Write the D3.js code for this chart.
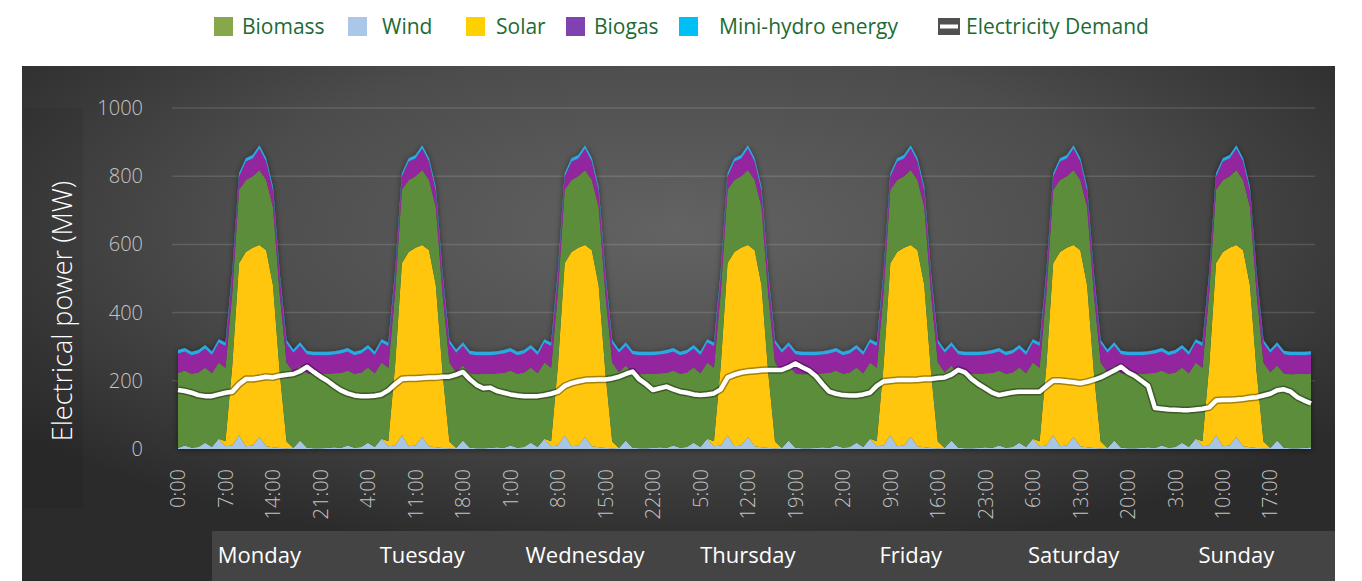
<!DOCTYPE html>
<html>
<head>
<meta charset="utf-8">
<script src="https://cdnjs.cloudflare.com/ajax/libs/d3/7.8.5/d3.min.js"></script>
<style>
    body { margin: 0; background: #ffffff; }
    svg { display: block; font-family: "Open Sans", sans-serif; }
</style>
</head>
<body>
<div id="chart"></div>
<script>
// days of the week shown under the axis
const days = ["Monday", "Tuesday", "Wednesday", "Thursday", "Friday", "Saturday", "Sunday"];

// category labels, one every 7 hours
const tickLabels = ["0:00", "7:00", "14:00", "21:00", "4:00", "11:00", "18:00", "1:00", "8:00", "15:00", "22:00",
    "5:00", "12:00", "19:00", "2:00", "9:00", "16:00", "23:00", "6:00", "13:00", "20:00", "3:00", "10:00", "17:00"];

const yTicks = [0, 200, 400, 600, 800, 1000];

// hourly values (MW), Monday 0:00 -> Sunday 23:00
const wind = [
    3, 10, 4, 6, 18, 6, 30, 8, 10, 40, 8, 10, 35, 8, 5, 3, 2, 3, 25, 4, 2, 2, 3, 5,
    3, 10, 4, 6, 18, 6, 30, 8, 10, 40, 8, 10, 35, 8, 5, 3, 2, 3, 25, 4, 2, 2, 3, 5,
    3, 10, 4, 6, 18, 6, 30, 8, 10, 40, 8, 10, 35, 8, 5, 3, 2, 3, 25, 4, 2, 2, 3, 5,
    3, 10, 4, 6, 18, 6, 30, 8, 10, 40, 8, 10, 35, 8, 5, 3, 2, 3, 25, 4, 2, 2, 3, 5,
    3, 10, 4, 6, 18, 6, 30, 8, 10, 40, 8, 10, 35, 8, 5, 3, 2, 3, 25, 4, 2, 2, 3, 5,
    3, 10, 4, 6, 18, 6, 30, 8, 10, 40, 8, 10, 35, 8, 5, 3, 2, 3, 25, 4, 2, 2, 3, 5,
    3, 10, 4, 6, 18, 6, 30, 8, 10, 40, 8, 10, 35, 8, 5, 3, 2, 3, 25, 4, 2, 2, 3, 5
];
const solar = [
    0, 0, 0, 0, 0, 0, 0, 15, 235, 505, 570, 580, 563, 575, 475, 220, 20, 0, 0, 0, 0, 0, 0, 0,
    0, 0, 0, 0, 0, 0, 0, 15, 235, 505, 570, 580, 563, 575, 475, 220, 20, 0, 0, 0, 0, 0, 0, 0,
    0, 0, 0, 0, 0, 0, 0, 15, 235, 505, 570, 580, 563, 575, 475, 220, 20, 0, 0, 0, 0, 0, 0, 0,
    0, 0, 0, 0, 0, 0, 0, 15, 235, 505, 570, 580, 563, 575, 475, 220, 20, 0, 0, 0, 0, 0, 0, 0,
    0, 0, 0, 0, 0, 0, 0, 15, 235, 505, 570, 580, 563, 575, 475, 220, 20, 0, 0, 0, 0, 0, 0, 0,
    0, 0, 0, 0, 0, 0, 0, 15, 235, 505, 570, 580, 563, 575, 475, 220, 20, 0, 0, 0, 0, 0, 0, 0,
    0, 0, 0, 0, 0, 0, 0, 15, 235, 505, 570, 580, 563, 575, 475, 220, 20, 0, 0, 0, 0, 0, 0, 0
];
const biomass = [
    220, 220, 217, 218, 221, 216, 224, 215, 215, 215, 211, 210, 220, 206, 230, 230, 232, 222, 220, 218, 217, 218, 217, 217,
    220, 220, 217, 218, 221, 216, 224, 215, 215, 215, 211, 210, 220, 206, 230, 230, 232, 222, 220, 218, 217, 218, 217, 217,
    220, 220, 217, 218, 221, 216, 224, 215, 215, 215, 211, 210, 220, 206, 230, 230, 232, 222, 220, 218, 217, 218, 217, 217,
    220, 220, 217, 218, 221, 216, 224, 215, 215, 215, 211, 210, 220, 206, 230, 230, 232, 222, 220, 218, 217, 218, 217, 217,
    220, 220, 217, 218, 221, 216, 224, 215, 215, 215, 211, 210, 220, 206, 230, 230, 232, 222, 220, 218, 217, 218, 217, 217,
    220, 220, 217, 218, 221, 216, 224, 215, 215, 215, 211, 210, 220, 206, 230, 230, 232, 222, 220, 218, 217, 218, 217, 217,
    220, 220, 217, 218, 221, 216, 224, 215, 215, 215, 211, 210, 220, 206, 230, 230, 232, 222, 220, 218, 217, 218, 217, 217
];
const biogas = [
    57, 56, 54, 56, 56, 54, 58, 64, 50, 39, 54, 52, 63, 54, 48, 52, 56, 57, 58, 56, 56, 55, 55, 55,
    57, 56, 54, 56, 56, 54, 58, 64, 50, 39, 54, 52, 63, 54, 48, 52, 56, 57, 58, 56, 56, 55, 55, 55,
    57, 56, 54, 56, 56, 54, 58, 64, 50, 39, 54, 52, 63, 54, 48, 52, 56, 57, 58, 56, 56, 55, 55, 55,
    57, 56, 54, 56, 56, 54, 58, 64, 50, 39, 54, 52, 63, 54, 48, 52, 56, 57, 58, 56, 56, 55, 55, 55,
    57, 56, 54, 56, 56, 54, 58, 64, 50, 39, 54, 52, 63, 54, 48, 52, 56, 57, 58, 56, 56, 55, 55, 55,
    57, 56, 54, 56, 56, 54, 58, 64, 50, 39, 54, 52, 63, 54, 48, 52, 56, 57, 58, 56, 56, 55, 55, 55,
    57, 56, 54, 56, 56, 54, 58, 64, 50, 39, 54, 52, 63, 54, 48, 52, 56, 57, 58, 56, 56, 55, 55, 55
];
const miniHydro = [
    10, 10, 10, 10, 10, 10, 10, 10, 10, 10, 10, 10, 10, 10, 10, 10, 10, 10, 10, 10, 10, 10, 10, 10,
    10, 10, 10, 10, 10, 10, 10, 10, 10, 10, 10, 10, 10, 10, 10, 10, 10, 10, 10, 10, 10, 10, 10, 10,
    10, 10, 10, 10, 10, 10, 10, 10, 10, 10, 10, 10, 10, 10, 10, 10, 10, 10, 10, 10, 10, 10, 10, 10,
    10, 10, 10, 10, 10, 10, 10, 10, 10, 10, 10, 10, 10, 10, 10, 10, 10, 10, 10, 10, 10, 10, 10, 10,
    10, 10, 10, 10, 10, 10, 10, 10, 10, 10, 10, 10, 10, 10, 10, 10, 10, 10, 10, 10, 10, 10, 10, 10,
    10, 10, 10, 10, 10, 10, 10, 10, 10, 10, 10, 10, 10, 10, 10, 10, 10, 10, 10, 10, 10, 10, 10, 10,
    10, 10, 10, 10, 10, 10, 10, 10, 10, 10, 10, 10, 10, 10, 10, 10, 10, 10, 10, 10, 10, 10, 10, 10
];
const demand = [
    173, 170, 165, 158, 155, 155, 160, 165, 168, 190, 205, 205, 208, 212, 210, 215, 218, 220, 228, 241, 226, 212, 200, 185,
    172, 163, 157, 155, 155, 156, 160, 172, 190, 205, 207, 207, 208, 210, 210, 212, 212, 218, 226, 205, 188, 178, 180, 170,
    165, 160, 157, 155, 155, 155, 158, 162, 168, 185, 193, 198, 202, 203, 204, 204, 207, 212, 220, 227, 204, 190, 173, 178,
    183, 175, 168, 165, 160, 158, 160, 163, 175, 210, 218, 224, 227, 229, 231, 232, 232, 232, 240, 251, 240, 230, 214, 190,
    168, 162, 158, 157, 157, 160, 165, 185, 198, 200, 202, 202, 202, 203, 205, 205, 208, 210, 218, 232, 225, 205, 190, 178,
    165, 158, 162, 166, 168, 168, 168, 168, 185, 200, 200, 198, 196, 193, 197, 203, 210, 220, 230, 241, 225, 215, 200, 185,
    120, 118, 116, 115, 114, 114, 116, 118, 122, 142, 144, 144, 145, 147, 150, 152, 157, 162, 172, 175, 168, 152, 142, 134
];

const legendItems = ["Biomass", "Wind", "Solar", "Biogas", "Mini-hydro energy", "Electricity Demand"];

class PowerChart {
    constructor(parentElement) {
        this.parentElement = parentElement;
        this.initVis();
    }

    initVis() {
        let vis = this;

        vis.width = 1362;
        vis.height = 581;
        vis.plot = {left: 178, right: 1311, top: 108, bottom: 449};

        vis.svg = d3.select("#" + vis.parentElement).append("svg")
            .attr("width", vis.width)
            .attr("height", vis.height);

        let defs = vis.svg.append("defs");
        let grad = defs.append("radialGradient")
            .attr("id", "panelBg")
            .attr("cx", 0.5).attr("cy", 0.32).attr("r", 0.64);
        grad.append("stop").attr("offset", "0%").attr("stop-color", "#636363");
        grad.append("stop").attr("offset", "55%").attr("stop-color", "#4c4c4c");
        grad.append("stop").attr("offset", "100%").attr("stop-color", "#2b2b2b");

        defs.append("filter").attr("id", "shadow")
            .attr("x", "-5%").attr("y", "-10%").attr("width", "110%").attr("height", "120%")
            .append("feDropShadow")
            .attr("dx", 0).attr("dy", 1)
            .attr("stdDeviation", 3)
            .attr("flood-color", "#000")
            .attr("flood-opacity", 0.5);

        // dark panel
        vis.svg.append("rect")
            .attr("x", 22).attr("y", 66)
            .attr("width", 1313).attr("height", 515)
            .attr("fill", "url(#panelBg)");

        // band behind the day names
        vis.svg.append("rect")
            .attr("x", 212).attr("y", 531)
            .attr("width", 1123).attr("height", 50)
            .attr("fill", "#444444");

        // box behind y-axis title
        vis.svg.append("rect")
            .attr("x", 23).attr("y", 108)
            .attr("width", 60).attr("height", 400)
            .attr("fill", "#000").attr("opacity", 0.06);

        // scales
        vis.x = d3.scaleLinear().domain([0, demand.length - 1]).range([vis.plot.left, vis.plot.right]);
        vis.y = d3.scaleLinear().domain([0, 1000]).range([vis.plot.bottom, vis.plot.top]);

        // gridlines
        vis.svg.append("g")
            .attr("class", "grid")
            .selectAll("line")
            .data(yTicks.filter(d => d > 0))
            .enter().append("line")
            .attr("x1", 172).attr("x2", 1315)
            .attr("y1", d => vis.y(d)).attr("y2", d => vis.y(d))
            .attr("stroke", "#ffffff")
            .attr("stroke-opacity", 0.13)
            .attr("stroke-width", 1.5);

        // y axis
        let yAxis = vis.svg.append("g")
            .attr("transform", "translate(143,0)")
            .call(d3.axisLeft(vis.y).tickValues(yTicks).tickFormat(d3.format("d")).tickSize(0).tickPadding(0));
        yAxis.select(".domain").remove();
        yAxis.selectAll("text")
            .attr("fill", "#c4c4c4")
            .style("font-family", "'Open Sans', sans-serif")
            .style("font-weight", 300)
            .style("font-size", "20px");

        // y-axis title
        vis.svg.append("text")
            .attr("transform", "translate(72,311) rotate(-90)")
            .attr("text-anchor", "middle")
            .attr("fill", "#ffffff")
            .style("font-weight", 300)
            .style("font-size", "27px")
            .text("Electrical power (MW)");

        // x tick labels (every 7 hours)
        vis.svg.append("g")
            .selectAll("text")
            .data(tickLabels)
            .enter().append("text")
            .attr("transform", (d, i) => `translate(${vis.x(i * 7)},469) rotate(-90)`)
            .attr("text-anchor", "end")
            .attr("dy", "0.36em")
            .attr("fill", "#c4c4c4")
            .style("font-weight", 300)
            .style("font-size", "20px")
            .text(d => d);

        // day labels
        vis.svg.append("g")
            .selectAll("text")
            .data(days)
            .enter().append("text")
            .attr("x", (d, i) => vis.x(i * 24 + 12))
            .attr("y", 563)
            .attr("text-anchor", "middle")
            .attr("fill", "#ffffff")
            .style("font-size", "22px")
            .text(d => d);

        vis.areaGroup = vis.svg.append("g").attr("filter", "url(#shadow)");
        vis.lineGroup = vis.svg.append("g");

        vis.drawLegend();
        vis.wrangleData();
    }

    drawLegend() {
        let vis = this;
        let swatch = ["#87a84a", "#aac7ea", "#ffd000", "#8141b3", "#00bff5"];
        let boxX = [214, 348, 466, 566, 679, 938];
        let textX = [242, 382, 496, 594, 719, 966];

        let legend = vis.svg.append("g").attr("class", "legend");
        legendItems.forEach((name, i) => {
            if (i < 5) {
                legend.append("rect")
                    .attr("x", boxX[i]).attr("y", 17)
                    .attr("width", 19).attr("height", 19)
                    .attr("fill", swatch[i]);
            } else {
                legend.append("rect")
                    .attr("x", boxX[i]).attr("y", 18)
                    .attr("width", 22).attr("height", 17)
                    .attr("fill", "#505050");
                legend.append("rect")
                    .attr("x", boxX[i] + 2).attr("y", 24.5)
                    .attr("width", 18).attr("height", 4)
                    .attr("fill", "#ffffff");
            }
            legend.append("text")
                .attr("x", textX[i]).attr("y", 34)
                .attr("fill", "#1d6b34")
                .style("font-size", "21px")
                .text(name);
        });
    }

    wrangleData() {
        let vis = this;

        vis.displayData = demand.map((d, i) => ({
            index: i,
            wind: wind[i],
            solar: solar[i],
            biomass: biomass[i],
            biogas: biogas[i],
            miniHydro: miniHydro[i],
            demand: d
        }));

        vis.stacked = d3.stack()
            .keys(["wind", "solar", "biomass", "biogas", "miniHydro"])(vis.displayData);

        vis.updateVis();
    }

    updateVis() {
        let vis = this;
        let colors = {wind: "#a7c6e6", solar: "#ffc60a", biomass: "#5b8d3b", biogas: "#93279f", miniHydro: "#2aa9e2"};

        let area = d3.area()
            .x(d => vis.x(d.data.index))
            .y0(d => vis.y(d[0]))
            .y1(d => vis.y(d[1]));

        vis.areaGroup.selectAll(".layer")
            .data(vis.stacked)
            .enter().append("path")
            .attr("class", "layer")
            .attr("fill", d => colors[d.key])
            .attr("d", area);

        let line = d3.line()
            .x(d => vis.x(d.index))
            .y(d => vis.y(d.demand));

        vis.lineGroup.append("path")
            .datum(vis.displayData)
            .attr("fill", "none")
            .attr("stroke", "#000")
            .attr("stroke-opacity", 0.35)
            .attr("stroke-width", 7.5)
            .attr("stroke-linejoin", "round")
            .attr("d", line);

        vis.lineGroup.append("path")
            .datum(vis.displayData)
            .attr("fill", "none")
            .attr("stroke", "#ffffff")
            .attr("stroke-width", 4.5)
            .attr("stroke-linejoin", "round")
            .attr("d", line);
    }
}

new PowerChart("chart");
</script>
</body>
</html>
